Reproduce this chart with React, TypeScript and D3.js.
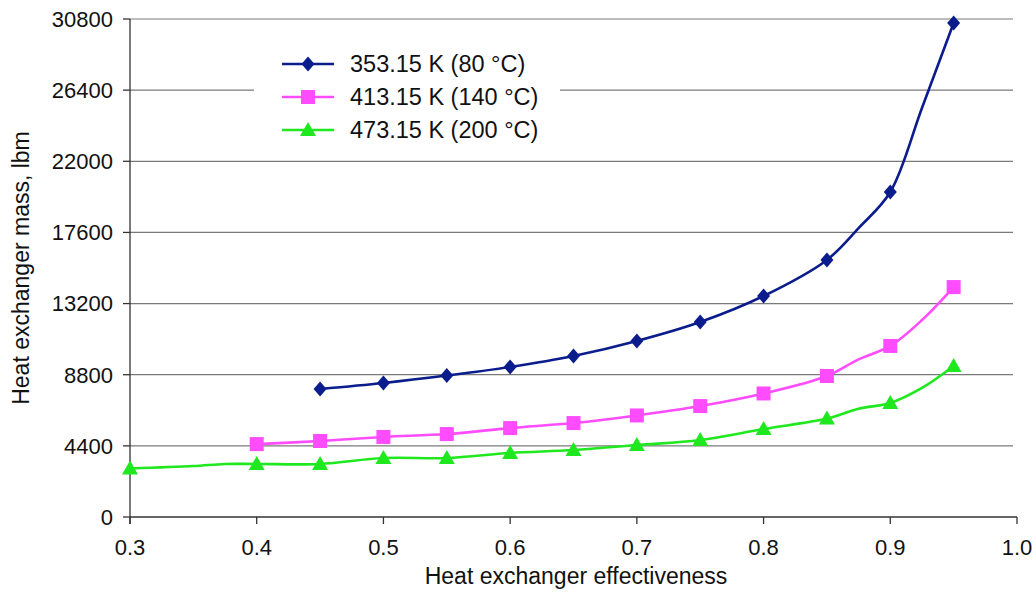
import React, { useEffect, useRef } from "react";
import * as d3 from "d3";

// ---- data ----
const xTicks = [0.3, 0.4, 0.5, 0.6, 0.7, 0.8, 0.9, 1.0];
const yTicks = [0, 4400, 8800, 13200, 17600, 22000, 26400, 30800];

const eff80 = [0.45, 0.5, 0.55, 0.6, 0.65, 0.7, 0.75, 0.8, 0.85, 0.875, 0.9, 0.925, 0.95];
const mass80 = [7920, 8290, 8750, 9280, 9960, 10890, 12060, 13670, 15900, 17870, 20100, 25300, 30550];
const mark80 = [1, 1, 1, 1, 1, 1, 1, 1, 1, 0, 1, 0, 1];

const eff140 = [0.4, 0.45, 0.5, 0.55, 0.6, 0.65, 0.7, 0.75, 0.8, 0.85, 0.875, 0.9, 0.925, 0.95];
const mass140 = [4510, 4700, 4950, 5130, 5500, 5810, 6280, 6860, 7640, 8720, 9750, 10580, 12180, 14220];
const mark140 = [1, 1, 1, 1, 1, 1, 1, 1, 1, 1, 0, 1, 0, 1];

const eff200 = [0.3, 0.35, 0.375, 0.4, 0.45, 0.5, 0.55, 0.6, 0.65, 0.7, 0.75, 0.8, 0.85, 0.875, 0.9, 0.925, 0.95];
const mass200 = [3000, 3150, 3280, 3280, 3280, 3650, 3650, 3960, 4140, 4450, 4760, 5440, 6090, 6700, 7050, 7980, 9340];
const mark200 = [1, 0, 0, 1, 1, 1, 1, 1, 1, 1, 1, 1, 1, 0, 1, 0, 1];

const seriesNames = ["353.15 K (80 °C)", "413.15 K (140 °C)", "473.15 K (200 °C)"];
const seriesColors = ["#0b1c8c", "#ff4cff", "#1fe81f"];
const seriesShapes = ["diamond", "square", "triangle"];

const xTitle = "Heat exchanger effectiveness";
const yTitle = "Heat exchanger mass, lbm";

const W = 1036;
const H = 594;
const FONT = "'Liberation Sans', Arial, sans-serif";

function markerPath(shape: string): string {
  if (shape === "diamond") return "M0,-7.5L6.5,0L0,7.5L-6.5,0Z";
  if (shape === "square") return "M-7,-7H7V7H-7Z";
  return "M0,-8L8,6L-8,6Z";
}

export default function App() {
  const ref = useRef<SVGSVGElement | null>(null);

  useEffect(() => {
    const svg = d3.select(ref.current);
    svg.selectAll("*").remove();

    const x = d3.scaleLinear().domain([0.3, 1.0]).range([130, 1017]);
    const y = d3.scaleLinear().domain([0, 30800]).range([517, 19]);

    svg.append("rect").attr("width", W).attr("height", H).attr("fill", "#fff");

    // gridlines
    svg
      .append("g")
      .selectAll("line")
      .data(yTicks.filter((d) => d > 0))
      .join("line")
      .attr("x1", x(0.3))
      .attr("x2", 1013)
      .attr("y1", (d) => y(d))
      .attr("y2", (d) => y(d))
      .attr("stroke", "#7a7a7a")
      .attr("stroke-width", 1.2);

    // y axis
    const yAxis = svg.append("g");
    yAxis
      .append("line")
      .attr("x1", x(0.3))
      .attr("x2", x(0.3))
      .attr("y1", y(30800))
      .attr("y2", y(0) + 7)
      .attr("stroke", "#333")
      .attr("stroke-width", 1.3);
    yAxis
      .selectAll("line.tick")
      .data(yTicks)
      .join("line")
      .attr("class", "tick")
      .attr("x1", x(0.3) - 7)
      .attr("x2", x(0.3))
      .attr("y1", (d) => y(d))
      .attr("y2", (d) => y(d))
      .attr("stroke", "#333")
      .attr("stroke-width", 1.3);
    yAxis
      .selectAll("text")
      .data(yTicks)
      .join("text")
      .attr("x", 113)
      .attr("y", (d) => y(d))
      .attr("dy", "0.36em")
      .attr("text-anchor", "end")
      .attr("font-family", FONT)
      .attr("font-size", 22)
      .attr("fill", "#111")
      .text((d) => String(d));

    // x axis
    const xAxis = svg.append("g");
    xAxis
      .append("line")
      .attr("x1", x(0.3))
      .attr("x2", x(1.0))
      .attr("y1", y(0))
      .attr("y2", y(0))
      .attr("stroke", "#333")
      .attr("stroke-width", 1.3);
    xAxis
      .selectAll("line.tick")
      .data(xTicks)
      .join("line")
      .attr("class", "tick")
      .attr("x1", (d) => x(d))
      .attr("x2", (d) => x(d))
      .attr("y1", y(0))
      .attr("y2", y(0) + 7)
      .attr("stroke", "#333")
      .attr("stroke-width", 1.3);
    xAxis
      .selectAll("text")
      .data(xTicks)
      .join("text")
      .attr("x", (d) => x(d))
      .attr("y", 555)
      .attr("text-anchor", "middle")
      .attr("font-family", FONT)
      .attr("font-size", 22)
      .attr("fill", "#111")
      .text((d) => d.toFixed(1));

    // titles
    svg
      .append("text")
      .attr("x", 576)
      .attr("y", 584)
      .attr("text-anchor", "middle")
      .attr("font-family", FONT)
      .attr("font-size", 23)
      .attr("fill", "#111")
      .text(xTitle);
    svg
      .append("text")
      .attr("transform", "translate(29,268) rotate(-90)")
      .attr("text-anchor", "middle")
      .attr("font-family", FONT)
      .attr("font-size", 23)
      .attr("fill", "#111")
      .text(yTitle);

    // series
    const effs = [eff80, eff140, eff200];
    const masses = [mass80, mass140, mass200];
    const marks = [mark80, mark140, mark200];
    const line = d3
      .line<[number, number]>()
      .x((d) => x(d[0]))
      .y((d) => y(d[1]))
      .curve(d3.curveCatmullRom.alpha(0.5));

    effs.forEach((ex, i) => {
      const pts: [number, number][] = ex.map((e, j) => [e, masses[i][j]]);
      const g = svg.append("g");
      g.append("path")
        .attr("d", line(pts) || "")
        .attr("fill", "none")
        .attr("stroke", seriesColors[i])
        .attr("stroke-width", 2.6)
        .attr("stroke-linejoin", "round");
      g.selectAll("path.m")
        .data(pts.filter((_, j) => marks[i][j] === 1))
        .join("path")
        .attr("class", "m")
        .attr("d", markerPath(seriesShapes[i]))
        .attr("transform", (d) => `translate(${x(d[0])},${y(d[1])})`)
        .attr("fill", seriesColors[i]);
    });

    // legend
    const lg = svg.append("g");
    lg.append("rect")
      .attr("x", 254)
      .attr("y", 38)
      .attr("width", 306)
      .attr("height", 114)
      .attr("fill", "#fff");
    const rowY = [64, 97, 130];
    seriesNames.forEach((name, i) => {
      lg.append("line")
        .attr("x1", 282)
        .attr("x2", 334)
        .attr("y1", rowY[i])
        .attr("y2", rowY[i])
        .attr("stroke", seriesColors[i])
        .attr("stroke-width", 2.6);
      lg.append("path")
        .attr("d", markerPath(seriesShapes[i]))
        .attr("transform", `translate(308,${rowY[i]})`)
        .attr("fill", seriesColors[i]);
      lg.append("text")
        .attr("x", 350)
        .attr("y", rowY[i])
        .attr("dy", "0.36em")
        .attr("font-family", FONT)
        .attr("font-size", 23.5)
        .attr("fill", "#111")
        .text(name);
    });
  }, []);

  return (
    <svg
      ref={ref}
      width={W}
      height={H}
      style={{ position: "absolute", left: 0, top: 0, display: "block" }}
    />
  );
}
